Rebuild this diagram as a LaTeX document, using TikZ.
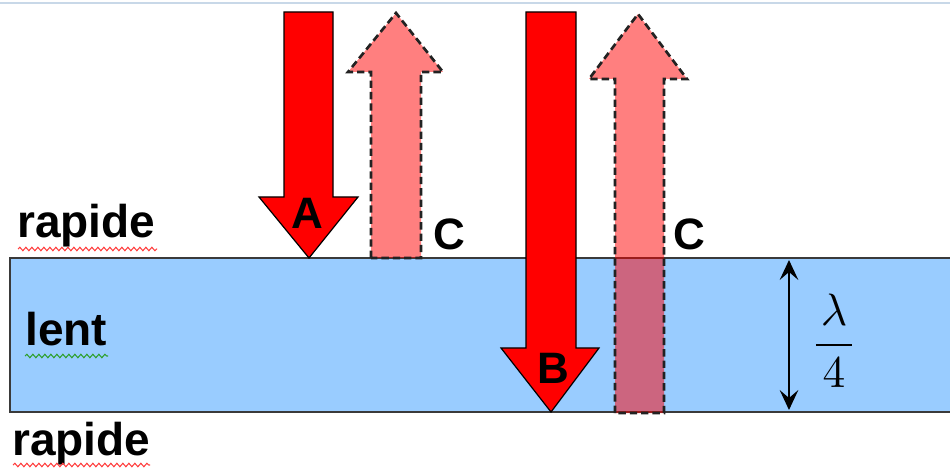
\documentclass[tikz,border=0pt]{standalone}
\usepackage{fontspec}
\setmainfont{Liberation Sans}
\usetikzlibrary{arrows.meta,decorations.pathmorphing}
\definecolor{slabblue}{HTML}{99CCFF}
\definecolor{slabedge}{HTML}{3A3A3A}
\definecolor{topline}{HTML}{C8D8E8}
\definecolor{spellred}{HTML}{FF4040}
\definecolor{spellgreen}{HTML}{30A030}
\definecolor{dashgray}{HTML}{222222}
\begin{document}
\begin{tikzpicture}[x=0.75pt,y=-0.75pt,
  solidarrow/.style={fill=red,draw=black,line width=0.9pt,line join=miter},
  ghostfill/.style={fill=red,fill opacity=0.5},
  ghostedge/.style={draw=dashgray,line width=2pt,dash pattern=on 5.5pt off 3pt},
  word/.style={font=\fontsize{34.5}{40}\selectfont\bfseries,inner sep=0pt,anchor=base west},
  letter/.style={font=\fontsize{33}{38}\selectfont\bfseries,inner sep=0pt,anchor=base},
  wavy/.style={decorate,decoration={snake,amplitude=1.3pt,segment length=4.5pt},line width=0.8pt}]
\useasboundingbox (0,0) rectangle (950,470);
\draw[topline,line width=0.8pt] (0,3) -- (950,3);
% slab
\draw[fill=slabblue,draw=slabedge,line width=1.5pt] (10,258) rectangle (965,412);
% arrow A
\draw[solidarrow] (284,12) -- (333,12) -- (333,197) -- (358,197) -- (309,258) -- (259,197) -- (284,197) -- cycle;
% arrow C1
\fill[ghostfill] (371,258) -- (371,72) -- (348,72) -- (396,13) -- (443,72) -- (421,72) -- (421,258) -- cycle;
\draw[ghostedge] (371,258) -- (371,72) -- (348,72) -- (396,13) -- (443,72) -- (421,72) -- (421,258) -- cycle;
% arrow B
\draw[solidarrow] (526,12) -- (576,12) -- (576,348) -- (599,348) -- (551,412) -- (501,348) -- (526,348) -- cycle;
% arrow C2
\fill[ghostfill] (615,413) -- (615,79) -- (589,79) -- (638,14) -- (687,79) -- (664,79) -- (664,413) -- cycle;
\draw[ghostedge] (615,413) -- (615,79) -- (589,79) -- (638,14) -- (687,79) -- (664,79) -- (664,413) -- cycle;
% labels
\node[word] (r1) at (17,238) {rapide};
\node[word] (ln) at (25,346) {lent};
\node[word] (r2) at (12,455) {rapide};
\node[letter] (la) at (307,229) {A};
\node[letter] (lb) at (553,383) {B};
\node[letter] (lc1) at (449,250) {C};
\node[letter] (lc2) at (689,250) {C};
% spelling marks
\draw[wavy,spellred] (18,249) -- (157,249);
\draw[wavy,spellgreen] (25,356) -- (108,356);
\draw[wavy,spellred] (13,465) -- (150,465);
% thickness marker
\coordinate (dt) at (789,260);
\coordinate (db) at (789,410);
\draw[line width=1.1pt,{Stealth[length=15pt,width=14pt,inset=6pt]}-{Stealth[length=15pt,width=14pt,inset=6pt]}] (dt) -- (db);
\node[inner sep=0pt] (frac) at (834,341) {\scalebox{3.4}{$\displaystyle\frac{\mkern2mu\lambda\mkern2mu}{4}$}};
\end{tikzpicture}
\end{document}
